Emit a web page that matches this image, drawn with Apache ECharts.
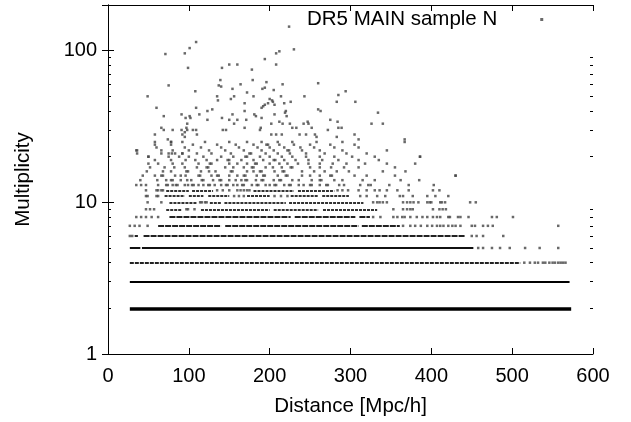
<!DOCTYPE html>
<html><head><meta charset="utf-8">
<script src="https://cdn.jsdelivr.net/npm/echarts@6/dist/echarts.min.js"></script>
<style>html,body{margin:0;padding:0;background:#fff}#c{width:631px;height:422px}</style>
</head><body><div id="c"></div>
<script>
const seriesName = 'DR5 MAIN sample N';
const xAxisTitle = 'Distance [Mpc/h]';
const yAxisTitle = 'Multiplicity';
const xMin = 0, xMax = 600, xStep = 100;
const yMin = 1, yMax = 200;
const yMinorTicks = [2,3,4,5,6,7,8,9,20,30,40,50,60,70,80,90];

// dense runs of groups along one multiplicity row: [multiplicity, from, to]
const runMult = [2, 3, 4, 5, 5, 6, 6, 7, 7, 7, 8, 8, 8, 9, 9, 9, 9, 10, 10, 10, 10, 11, 11, 11, 11, 11, 11, 12, 12, 12, 12];
const runFrom = [27, 27, 27, 27, 42, 33, 44, 62, 145, 314, 76, 231, 311, 72, 115, 205, 266, 76, 126, 144, 224, 70, 100, 124, 172, 226, 265, 72, 104, 180, 235];
const runTo   = [573, 571, 510, 40, 452, 37, 442, 140, 310, 361, 226, 306, 324, 91, 200, 260, 333, 110, 140, 220, 316, 95, 118, 150, 200, 260, 298, 100, 130, 230, 280];

// individual groups on integer multiplicity rows
const rowMult = [4, 5, 6, 7, 8, 9, 10, 11, 12, 13, 14, 15, 16, 17, 18, 19, 20, 21, 22, 23, 24, 25];
const rowDist = [
  [515,522,528,532,538,541,546,550,553,557,560,563,566],
  [458,464,475,485,497,516,534,557],
  [27,30,450,456,464,489],
  [27,33,39,49,365,374,380,387,395,401,407,411,415,421,426,430,436,450,454,464,470,476,557],
  [35,41,47,54,62,328,337,353,358,364,367,374,382,389,395,402,407,411,421,423,433,436,446,475,481,501],
  [47,52,57,97,99,107,353,365,370,374,377,402,410,414,418],
  [49,66,114,116,120,122,328,333,336,340,345,365,370,374,378,384,395,398,400,411,413,417,448,455],
  [47,49,60,62,156,162,168,206,214,222,312,320,333,343,361,365,377,395,405,421],
  [47,60,62,66,68,135,142,150,160,164,168,172,175,284,290,297,310,320,330,336,345,358,372,402,410],
  [35,41,47,62,72,74,80,84,86,95,99,104,106,112,118,124,126,132,140,146,148,155,160,166,168,178,184,186,195,200,206,208,218,224,226,236,242,250,252,262,270,272,286,292,312,322,325,348,372,403],
  [40,61,72,78,80,90,98,103,116,118,130,138,140,150,158,165,170,172,183,190,192,205,212,214,228,236,252,262,264,280,290,315,330,362,385],
  [43,58,66,68,83,90,96,112,114,128,135,137,150,160,168,170,184,192,194,210,220,222,240,250,262,275,277,305,320,355,430],
  [48,68,78,97,99,115,125,133,152,154,172,180,188,190,206,216,218,240,255,268,283,298,340,368],
  [52,70,82,95,110,122,124,145,155,168,178,180,195,204,215,226,228,250,262,276,292,310,355],
  [62,80,92,112,126,128,150,160,172,182,184,200,212,222,235,248,262,278,295,318,345,380],
  [58,78,96,108,122,135,148,150,165,180,192,205,207,218,232,248,265,285,310,335],
  [50,75,88,100,118,140,155,170,172,188,200,215,228,245,262,280,302,330,386],
  [66,92,110,128,152,175,177,195,210,225,245,268,295,320],
  [35,80,100,125,145,168,190,205,222,224,240,262,290,345],
  [60,95,115,140,162,185,200,218,238,255,280,310],
  [58,78,105,135,158,180,196,198,212,230,250,275,305],
  [78,92,120,150,172,190,210,228,258,290,367]
];

// rich groups, read one by one
const upperDist = [224,109,101,95,71,99,150,160,141,178,194,208,139,137,140,154,164,179,191,194,196,75,108,172,180,205,49,135,136,156,152,200,203,204,198,194,192,190,169,206,60,109,129,123,169,181,183,206,154,91,101,96,102,113,69,123,141,150,160,171,190,189,188,98,66,69,80,91,95,98,105,109,110,142,146,156,169,202,58,74,
  212,230,208,216,260,285,294,243,214,218,226,283,306,220,219,260,263,334,221,212,216,225,228,233,242,247,248,252,275,284,285,289,326,340,272,202,215,208,237,245,256,258,305,310,367,283,386,430,
  36,36,58,50,50,97,92,95,78,75,79,83,92,66];
const upperMult = [144,114,104,96,95,77,81,81,77,75,88,96,64,59,58,56,60,64,56,57,62,59,54,53,50,55,50,50,47,50,48,48,47,46,45,44,43,42,45,44,42,42,41,40,40,38,37,38,38,38,37,36,36,38,37,35,36,35,35,35,36,31,30,33,31,30,30,30,29,30,30,30,28,30,30,33,31,33,28,26,
  99,102,81,60,61,51,54,50,50,45,46,46,46,40,39,41,40,39,37,34,33,33,31,31,33,34,33,31,35,34,31,31,33,33,30,28,28,28,28,28,28,27,28,26,26,27,20,15,
  22,21,25,20,18,31,28,27,25,21,21,21,21,22];

const scatterData = [];
rowMult.forEach((m, i) => rowDist[i].forEach(d => scatterData.push([d, m])));
upperDist.forEach((d, i) => scatterData.push([d, upperMult[i]]));

function runStyle(m) {
  if (m === 2) return {width: 3.5, color: '#000', type: 'solid'};
  if (m === 3) return {width: 2, color: '#000', type: 'solid'};
  if (m === 4) return {width: 2, color: '#222', type: [4, 1]};
  if (m === 5) return {width: 2, color: '#111', type: 'solid'};
  if (m <= 8) return {width: 2, color: '#222', type: [6, 1]};
  return {width: 2, color: '#333', type: [3, 1]};
}
const linesData = runMult.map((m, i) => ({
  coords: [[runFrom[i], m], [runTo[i], m]],
  lineStyle: runStyle(m)
}));

const font = "'Liberation Sans', Arial, Helvetica, sans-serif";
const txt = '#000';
const chart = echarts.init(document.getElementById('c'), null, {renderer: 'canvas'});
const baseY = {type: 'log', logBase: 10, min: yMin, max: yMax, splitLine: {show: false}};
const baseX = {type: 'value', min: xMin, max: xMax, interval: xStep, splitLine: {show: false}};
chart.setOption({
  animation: false,
  backgroundColor: '#fff',
  textStyle: {fontFamily: font},
  grid: {left: 108, right: 38, top: 5, bottom: 66},
  legend: {
    data: [seriesName], left: 307, top: 9, padding: 0, align: 'right',
    icon: 'rect', itemWidth: 3, itemHeight: 3,
    textStyle: {fontFamily: font, fontSize: 20.5, color: txt, padding: [0, 38, 0, 0]},
    itemStyle: {color: '#444'}
  },
  xAxis: [
    Object.assign({}, baseX, {
      position: 'bottom', name: xAxisTitle, nameLocation: 'middle', nameGap: 42,
      nameTextStyle: {fontFamily: font, fontSize: 20.5, color: txt},
      axisLine: {show: true, lineStyle: {color: '#000', width: 1}},
      axisTick: {show: true, inside: true, length: 6, lineStyle: {color: '#000'}},
      axisLabel: {fontFamily: font, fontSize: 20, color: txt, margin: 12}
    }),
    Object.assign({}, baseX, {
      position: 'top',
      axisLine: {show: true, lineStyle: {color: '#000', width: 1}},
      axisTick: {show: true, inside: true, length: 6, lineStyle: {color: '#000'}},
      axisLabel: {show: false}
    })
  ],
  yAxis: [
    Object.assign({}, baseY, {
      position: 'left', name: yAxisTitle, nameLocation: 'middle', nameGap: 74,
      nameTextStyle: {fontFamily: font, fontSize: 20.5, color: txt},
      axisLine: {show: true, lineStyle: {color: '#000', width: 1}},
      axisTick: {show: true, inside: true, length: 6, lineStyle: {color: '#000'}},
      axisLabel: {fontFamily: font, fontSize: 20, color: txt, margin: 11, showMaxLabel: false}
    }),
    Object.assign({}, baseY, {
      position: 'right',
      axisLine: {show: true, lineStyle: {color: '#000', width: 1}},
      axisTick: {show: true, inside: true, length: 6, lineStyle: {color: '#000'}},
      axisLabel: {show: false}
    }),
    Object.assign({}, baseY, {
      position: 'left',
      axisLine: {show: false},
      axisTick: {show: true, inside: true, length: 3, customValues: yMinorTicks, lineStyle: {color: '#000'}},
      axisLabel: {show: false}
    }),
    Object.assign({}, baseY, {
      position: 'right',
      axisLine: {show: false},
      axisTick: {show: true, inside: true, length: 3, customValues: yMinorTicks, lineStyle: {color: '#000'}},
      axisLabel: {show: false}
    })
  ],
  series: [
    {
      type: 'lines', coordinateSystem: 'cartesian2d', xAxisIndex: 0, yAxisIndex: 0,
      silent: true, z: 2, data: linesData,
      lineStyle: {opacity: 1, curveness: 0}
    },
    {
      name: seriesName, type: 'scatter', xAxisIndex: 0, yAxisIndex: 0,
      symbol: 'rect', symbolSize: 2.5, z: 3, silent: true,
      itemStyle: {color: '#444'},
      data: scatterData
    }
  ]
});
</script></body></html>
